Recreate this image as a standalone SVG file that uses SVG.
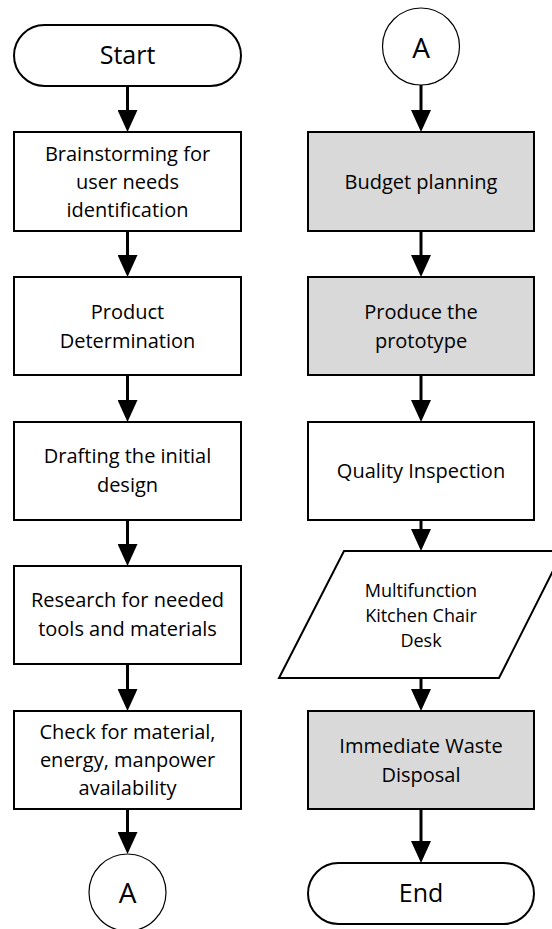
<svg xmlns="http://www.w3.org/2000/svg" width="552" height="929" viewBox="0 0 552 929">
<style>
.box{fill:#fff;stroke:#000;stroke-width:2}
.gray{fill:#d9d9d9}
.circ{fill:#fff;stroke:#000;stroke-width:1.2}
.t{font-family:"Open Sans","Liberation Sans",sans-serif;font-size:20px;fill:#000;text-anchor:middle}
.term{font-size:25px}
.con{font-size:28px}
.small{font-size:18px}
.conn line{stroke:#000;stroke-width:3;marker-end:url(#ah)}
</style>
<defs>
<marker id="ah" markerUnits="userSpaceOnUse" viewBox="0 0 22 20" refX="2" refY="10" markerWidth="22" markerHeight="20" orient="auto">
<path d="M0,0 L22,10 L0,20 Z" fill="#000"/>
</marker>
</defs>
<rect width="552" height="929" fill="#fff"/>
<g class="conn" id="connectors">
<line x1="127.5" y1="86" x2="127.5" y2="112"/>
<line x1="127.5" y1="231" x2="127.5" y2="257"/>
<line x1="127.5" y1="375" x2="127.5" y2="402"/>
<line x1="127.5" y1="520" x2="127.5" y2="546"/>
<line x1="127.5" y1="664" x2="127.5" y2="691"/>
<line x1="127.5" y1="809" x2="127.5" y2="834"/>
<line x1="421" y1="85" x2="421" y2="112"/>
<line x1="421" y1="231" x2="421" y2="257"/>
<line x1="421" y1="375" x2="421" y2="402"/>
<line x1="421" y1="520" x2="421" y2="531"/>
<line x1="421" y1="678" x2="421" y2="691"/>
<line x1="421" y1="809" x2="421" y2="843"/>
</g>
<g id="start">
<rect class="box" x="14" y="25" width="227" height="61" rx="30.5"/>
<text class="t term" x="127.5" y="64">Start</text>
</g>
<g id="brainstorming">
<rect class="box" x="14" y="132" width="227" height="99"/>
<text class="t" x="127.5" y="161">Brainstorming for</text>
<text class="t" x="127.5" y="189">user needs</text>
<text class="t" x="127.5" y="217">identification</text>
</g>
<g id="product">
<rect class="box" x="14" y="277" width="227" height="98"/>
<text class="t" x="127.5" y="319">Product</text>
<text class="t" x="127.5" y="348">Determination</text>
</g>
<g id="drafting">
<rect class="box" x="14" y="422" width="227" height="98"/>
<text class="t" x="127.5" y="463">Drafting the initial</text>
<text class="t" x="127.5" y="492">design</text>
</g>
<g id="research">
<rect class="box" x="14" y="566" width="227" height="98"/>
<text class="t" x="127.5" y="607">Research for needed</text>
<text class="t" x="127.5" y="636">tools and materials</text>
</g>
<g id="check">
<rect class="box" x="14" y="711" width="227" height="98"/>
<text class="t" x="127.5" y="739">Check for material,</text>
<text class="t" x="127.5" y="767">energy, manpower</text>
<text class="t" x="127.5" y="795">availability</text>
</g>
<g id="connectorA1">
<circle class="circ" cx="127.5" cy="892.5" r="38.5"/>
<text class="t con" x="127.5" y="903">A</text>
</g>
<g id="connectorA2">
<circle class="circ" cx="421" cy="46.5" r="38.5"/>
<text class="t con" x="421" y="57.5">A</text>
</g>
<g id="budget">
<rect class="box gray" x="308" y="132" width="226" height="99"/>
<text class="t" x="421" y="189">Budget planning</text>
</g>
<g id="prototype">
<rect class="box gray" x="308" y="277" width="226" height="98"/>
<text class="t" x="421" y="319">Produce the</text>
<text class="t" x="421" y="348">prototype</text>
</g>
<g id="quality">
<rect class="box" x="308" y="422" width="226" height="98"/>
<text class="t" x="421" y="478">Quality Inspection</text>
</g>
<g id="output">
<polygon class="box" points="344,551 563,551 499,678 279,678"/>
<text class="t small" x="421" y="597">Multifunction</text>
<text class="t small" x="421" y="622">Kitchen Chair</text>
<text class="t small" x="421" y="647">Desk</text>
</g>
<g id="waste">
<rect class="box gray" x="308" y="711" width="226" height="98"/>
<text class="t" x="421" y="753">Immediate Waste</text>
<text class="t" x="421" y="782">Disposal</text>
</g>
<g id="end">
<rect class="box" x="308" y="863" width="226" height="61" rx="30.5"/>
<text class="t term" x="421" y="902">End</text>
</g>
</svg>
